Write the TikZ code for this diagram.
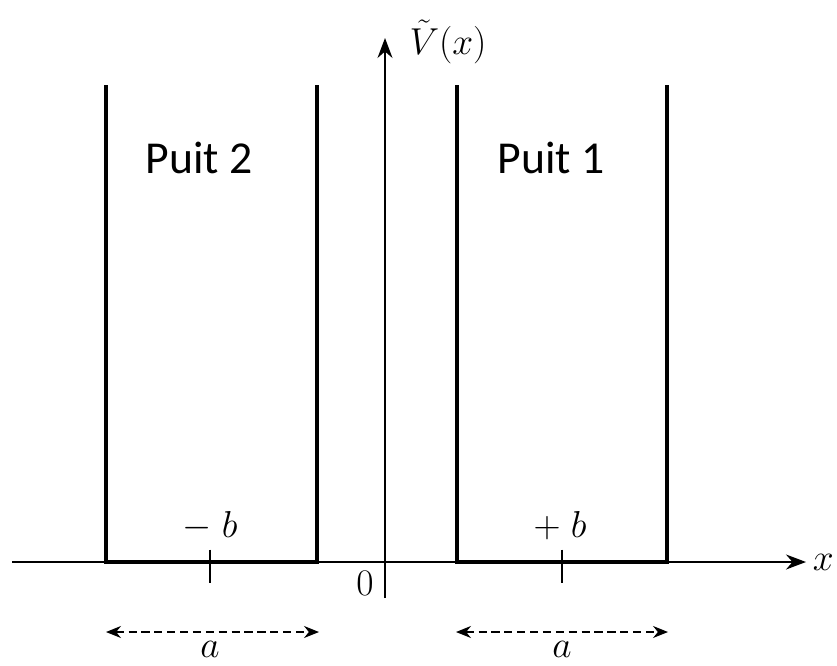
\RequirePackage{fix-cm}
\documentclass[tikz,border=0pt]{standalone}
\usepackage{fontspec}
\newfontfamily\puitfont{Carlito}
\usetikzlibrary{arrows.meta,positioning}
\tikzset{
  wall/.style={line width=3.6pt, line join=miter},
  axis/.style={line width=1.2pt, -{Stealth[length=6mm,width=4.5mm]}},
  tickmark/.style={line width=1.4pt},
  span/.style={line width=1.1pt, dash pattern=on 7pt off 4pt,
    {Stealth[length=4.5mm,width=3.6mm]}-{Stealth[length=4.5mm,width=3.6mm]}},
  lbl/.style={font=\fontsize{32}{36}\selectfont, inner sep=0pt},
  puit/.style={font=\puitfont\fontsize{39}{44}\selectfont, inner sep=0pt},
}
\begin{document}
\begin{tikzpicture}[x=0.03cm, y=-0.03cm]
  \useasboundingbox (0,0) rectangle (837,665);
  % axes
  \coordinate (xl) at (12,562);
  \coordinate (xr) at (806,562);
  \coordinate (yb) at (385,598);
  \coordinate (yt) at (385,38);
  \draw[axis] (xl) -- (xr);
  \draw[axis] (yb) -- (yt);
  \node[lbl, right=2mm of xr] (xlab) {$x$};
  \node[lbl] (vlab) at (448,42) {$\tilde V(x)$};
  \node[lbl] (zero) at (365,583) {$0$};
  % well 2 (left)
  \draw[wall] (106,85) -- (106,562) -- (317,562) -- (317,85);
  \coordinate (mb) at (210,562);
  \draw[tickmark] ([yshift=10.5pt]mb) -- ([yshift=-18pt]mb);
  \node[lbl] (mblab) at (210,526) {$-\;b$};
  \node[puit] (p2) at (199,158) {Puit 2};
  % well 1 (right)
  \draw[wall] (457,85) -- (457,562) -- (667,562) -- (667,85);
  \coordinate (pb) at (562,562);
  \draw[tickmark] ([yshift=10.5pt]pb) -- ([yshift=-18pt]pb);
  \node[lbl] (pblab) at (560,526) {$+\;b$};
  \node[puit] (p1) at (551,158) {Puit 1};
  % widths
  \coordinate (a2l) at (106,632);
  \coordinate (a2r) at (319,632);
  \coordinate (a1l) at (456,632);
  \coordinate (a1r) at (668,632);
  \draw[span] (a2l) -- (a2r);
  \draw[span] (a1l) -- (a1r);
  \node[lbl] (a2) at (210,649) {$a$};
  \node[lbl] (a1) at (562,649) {$a$};
\end{tikzpicture}
\end{document}
